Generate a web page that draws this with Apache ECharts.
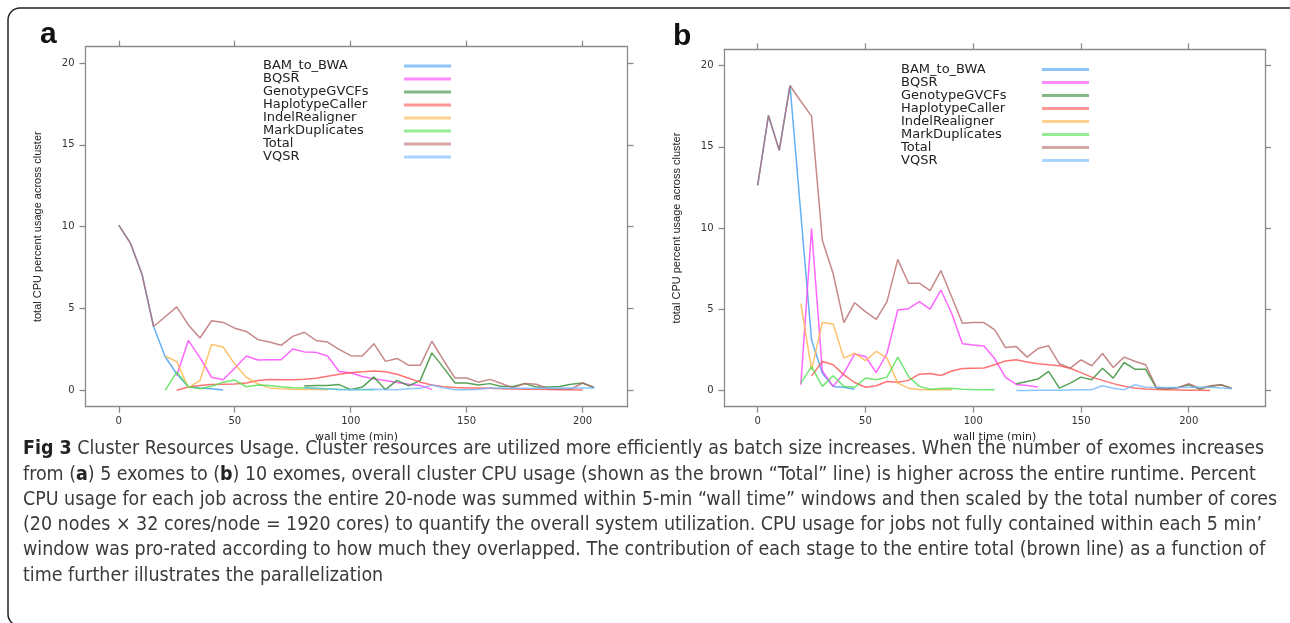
<!DOCTYPE html>
<html>
<head>
<meta charset="utf-8">
<script src="https://cdn.jsdelivr.net/npm/echarts@6/dist/echarts.min.js"></script>
<style>
  html, body { margin: 0; padding: 0; background: #fff; }
  #main { width: 1290px; height: 623px; }
</style>
</head>
<body>
<div id="main"></div>
<script>
// stage names, in legend order
const stageNames = ['BAM_to_BWA', 'BQSR', 'GenotypeGVCFs', 'HaplotypeCaller',
                    'IndelRealigner', 'MarkDuplicates', 'Total', 'VQSR'];
const stageColors = ['#3d9cf5', '#ff40ff', '#2e8b2e', '#ff5050',
                     '#ffb347', '#4fe04f', '#b86a6a', '#70b8ff'];

const xTicks = [0, 50, 100, 150, 200];
const yTicks = [0, 5, 10, 15, 20];

// leading nulls = stage not running yet
function lead(n, vals) { return new Array(n).fill(null).concat(vals); }

// ---- panel a : 5 exomes ----
const timeA = [0,5,10,15,20,25,30,35,40,45,50,55,60,65,70,75,80,85,90,95,100,
               105,110,115,120,125,130,135,140,145,150,155,160,165,170,175,180,
               185,190,195,200,205];
const bamA = [10.1, 9.0, 7.1, 3.9, 2.05, 1.0, 0.22, 0.15, 0.1, 0.02];
const bqsrA = lead(5, [0.9, 3.05, 2.0, 0.8, 0.65, 1.35, 2.1, 1.85, 1.87, 1.87, 2.53, 2.35,
                       2.32, 2.1, 1.15, 1.08, 0.85, 0.7, 0.6, 0.48, 0.37, 0.3, 0.06]);
const genoA = lead(16, [0.27, 0.29, 0.3, 0.35, 0.04, 0.2, 0.82, 0.04, 0.61, 0.27, 0.61, 2.29,
                        1.39, 0.45, 0.45, 0.33, 0.41, 0.24, 0.24, 0.41, 0.2, 0.2, 0.24, 0.37,
                        0.45, 0.16]);
const haploA = lead(5, [0.0, 0.2, 0.3, 0.35, 0.37, 0.38, 0.45, 0.6, 0.66, 0.64, 0.65, 0.68,
                        0.74, 0.86, 0.98, 1.07, 1.13, 1.18, 1.14, 0.98, 0.74, 0.5, 0.32, 0.22,
                        0.18, 0.15, 0.14, 0.12, 0.1, 0.08, 0.07, 0.06, 0.05, 0.04, 0.03, 0.02]);
const indelA = lead(4, [2.1, 1.75, 0.16, 0.6, 2.8, 2.65, 1.6, 0.8, 0.4, 0.15, 0.1, 0.07,
                        0.05, 0.05, 0.04]);
const markA = lead(4, [0.0, 1.13, 0.22, 0.1, 0.25, 0.5, 0.63, 0.22, 0.32, 0.3, 0.22, 0.16,
                       0.15, 0.12, 0.1, 0.07, 0.05, 0.04, 0.03]);
const totalA = [10.1, 9.0, 7.1, 3.9, 4.5, 5.1, 4.0, 3.2, 4.25, 4.15, 3.8, 3.6, 3.1, 2.95,
                2.75, 3.3, 3.55, 3.05, 2.95, 2.5, 2.12, 2.1, 2.85, 1.77, 1.95, 1.53, 1.53,
                3.0, 1.84, 0.75, 0.75, 0.5, 0.67, 0.42, 0.15, 0.42, 0.37, 0.1, 0.08, 0.08,
                0.45, 0.18];
const vqsrA = lead(16, [0.16, 0.12, 0.08, 0.03, 0.04, 0.05, 0.06, 0.05, 0.04, 0.1, 0.12, 0.32,
                        0.15, 0.03, 0.04, 0.05, 0.15, 0.12, 0.12, 0.12, 0.13, 0.13, 0.14, 0.14,
                        0.14, 0.14]);

// ---- panel b : 10 exomes ----
const timeB = [0,5,10,15,20,25,30,35,40,45,50,55,60,65,70,75,80,85,90,95,100,
               105,110,115,120,125,130,135,140,145,150,155,160,165,170,175,180,
               185,190,195,200,205,210,215,220];
const bamB = [12.63, 16.93, 14.78, 18.77, 10.9, 3.1, 1.06, 0.25, 0.2, 0.08];
const bqsrB = lead(4, [0.35, 9.97, 1.2, 0.25, 1.06, 2.25, 2.09, 1.1, 2.29, 4.95, 5.03, 5.47,
                       5.0, 6.18, 4.75, 2.87, 2.8, 2.74, 1.95, 0.8, 0.37, 0.3, 0.22]);
const genoB = lead(24, [0.41, 0.55, 0.7, 1.17, 0.14, 0.45, 0.82, 0.66, 1.37, 0.76, 1.72, 1.31,
                        1.31, 0.14, 0.08, 0.18, 0.35, 0.08, 0.25, 0.35, 0.12]);
const haploB = lead(5, [0.9, 1.78, 1.58, 0.96, 0.49, 0.2, 0.29, 0.55, 0.5, 0.62, 1.0, 1.05,
                        0.92, 1.2, 1.35, 1.37, 1.38, 1.58, 1.82, 1.89, 1.75, 1.65, 1.58, 1.52,
                        1.37, 1.1, 0.82, 0.62, 0.42, 0.26, 0.15, 0.09, 0.06, 0.04, 0.03, 0.02,
                        0.01, 0.0]);
const indelB = lead(4, [5.36, 1.27, 4.18, 4.09, 1.99, 2.29, 1.84, 2.4, 1.99, 0.45, 0.14, 0.06,
                        0.05, 0.05, 0.04]);
const markB = lead(4, [0.45, 1.47, 0.25, 0.9, 0.25, 0.2, 0.76, 0.66, 0.82, 2.05, 0.86, 0.25,
                       0.08, 0.12, 0.14, 0.08, 0.06, 0.05, 0.04]);
const totalB = [12.63, 16.93, 14.78, 18.77, 17.8, 16.89, 9.25, 7.2, 4.18, 5.4, 4.85, 4.38,
                5.47, 8.07, 6.6, 6.6, 6.15, 7.38, 5.77, 4.14, 4.18, 4.18, 3.73, 2.64, 2.7,
                2.05, 2.58, 2.75, 1.64, 1.37, 1.88, 1.52, 2.27, 1.41, 2.05, 1.8, 1.58, 0.2,
                0.14, 0.17, 0.41, 0.14, 0.29, 0.35, 0.12];
const vqsrB = lead(24, [0.0, 0.0, 0.02, 0.02, 0.02, 0.03, 0.04, 0.05, 0.29, 0.14, 0.04, 0.35,
                        0.2, 0.18, 0.18, 0.18, 0.2, 0.2, 0.2, 0.15, 0.12]);

const panelA = [bamA, bqsrA, genoA, haploA, indelA, markA, totalA, vqsrA];
const panelB = [bamB, bqsrB, genoB, haploB, indelB, markB, totalB, vqsrB];

const captionLines = [
  '{b|Fig 3} Cluster Resources Usage. Cluster resources are utilized more efficiently as batch size increases. When the number of exomes increases',
  'from ({b|a}) 5 exomes to ({b|b}) 10 exomes, overall cluster CPU usage (shown as the brown \u201cTotal\u201d line) is higher across the entire runtime. Percent',
  'CPU usage for each job across the entire 20-node was summed within 5-min \u201cwall time\u201d windows and then scaled by the total number of cores',
  '(20 nodes \u00d7 32 cores/node = 1920 cores) to quantify the overall system utilization. CPU usage for jobs not fully contained within each 5 min\u2019',
  'window was pro-rated according to how much they overlapped. The contribution of each stage to the entire total (brown line) as a function of',
  'time further illustrates the parallelization'
];

function pairs(t, v) {
  const out = [];
  v.forEach((y, i) => { if (y !== null) out.push([t[i], y]); });
  return out;
}

const capFont = '"Liberation Sans Narrow", "DejaVu Sans Condensed", sans-serif';
const capSize = 20;
// width of a caption line, so it can be squeezed to the reference width
function capWidth(line) {
  const ctx = document.createElement('canvas').getContext('2d');
  let w = 0;
  line.split(/(\{b\|[^}]*\})/).forEach(part => {
    if (!part) return;
    const m = part.match(/^\{b\|([^}]*)\}$/);
    ctx.font = (m ? 'bold ' : '') + capSize + 'px ' + capFont;
    w += ctx.measureText(m ? m[1] : part).width;
  });
  return w;
}
const capScale = (1277 - 23) / capWidth(captionLines[2]);

const axisGray = '#8a8a8a';
const lineAx = { show: true, onZero: false, lineStyle: { color: axisGray, width: 1.3 } };
const tickAx = (vals) => ({ show: true, inside: false, length: 6, customValues: vals,
                            lineStyle: { color: axisGray, width: 1.3 } });
const labelAx = (vals, margin) => ({ show: true, customValues: vals, margin: margin,
                                     fontFamily: 'DejaVu Sans', fontSize: 10, color: '#333' });

function xAxes(grid, min, max) {
  return [
    { type: 'value', gridIndex: grid, position: 'bottom', min: min, max: max,
      axisLine: lineAx, axisTick: tickAx(xTicks), axisLabel: labelAx(xTicks, 10),
      splitLine: { show: false },
      name: 'wall time (min)', nameLocation: 'middle', nameGap: 25,
      nameTextStyle: { fontFamily: 'DejaVu Sans', fontSize: 11, color: '#222' } },
    { type: 'value', gridIndex: grid, position: 'top', min: min, max: max,
      axisLine: lineAx, axisTick: tickAx(xTicks), axisLabel: { show: false },
      splitLine: { show: false } }
  ];
}
function yAxes(grid) {
  return [
    { type: 'value', gridIndex: grid, position: 'left', min: -1, max: 21,
      axisLine: lineAx, axisTick: tickAx(yTicks), axisLabel: labelAx(yTicks, 11),
      splitLine: { show: false },
      name: 'total CPU percent usage across cluster', nameLocation: 'middle', nameGap: 42,
      nameTextStyle: { fontFamily: 'Liberation Sans', fontSize: 11, color: '#222' } },
    { type: 'value', gridIndex: grid, position: 'right', min: -1, max: 21,
      axisLine: lineAx, axisTick: tickAx(yTicks), axisLabel: { show: false },
      splitLine: { show: false } }
  ];
}

const series = [];
[[panelA, timeA, 0], [panelB, timeB, 1]].forEach(([vals, t, g]) => {
  vals.forEach((v, i) => {
    series.push({
      name: stageNames[i], type: 'line', xAxisIndex: g * 2, yAxisIndex: g * 2,
      data: pairs(t, v), symbol: 'none', silent: true,
      lineStyle: { color: stageColors[i], width: 1.5, opacity: 0.8 },
      itemStyle: { color: stageColors[i] }
    });
  });
});

function legendAt(left, top, rowH) {
  return {
    data: stageNames, orient: 'vertical', left: left, top: top, align: 'right',
    padding: 0, itemGap: 0, itemWidth: 47, itemHeight: 3, icon: 'rect',
    selectedMode: false, inactiveColor: '#ccc',
    itemStyle: { opacity: 0.6 },
    formatter: '{n|{name}}',
    textStyle: {
      fontFamily: 'DejaVu Sans', fontSize: 13, color: '#222',
      rich: { n: { width: 136, height: rowH, lineHeight: rowH, align: 'left',
                   fontFamily: 'DejaVu Sans', fontSize: 13, color: '#222' } }
    }
  };
}

const graphics = [
  { type: 'rect', shape: { x: 8, y: 8, width: 1296, height: 618, r: 12 },
    style: { fill: 'none', stroke: '#222', lineWidth: 1.5 }, silent: true },
  { type: 'text', x: 40, y: 34.6,
    style: { text: 'a', font: 'bold 30px "Liberation Sans"', fill: '#111', verticalAlign: 'middle' } },
  { type: 'text', x: 673, y: 37,
    style: { text: 'b', font: 'bold 30px "Liberation Sans"', fill: '#111', verticalAlign: 'middle' } }
];
captionLines.forEach((line, i) => {
  graphics.push({
    type: 'text', x: 23, y: 449 + i * 25.3, scaleX: capScale, scaleY: 1,
    style: {
      text: line, fontFamily: capFont, fontSize: capSize, fill: '#3a3a3a',
      verticalAlign: 'middle',
      rich: { b: { fontFamily: capFont, fontSize: capSize, fontWeight: 'bold', fill: '#222' } }
    }
  });
});

const chart = echarts.init(document.getElementById('main'), null, { renderer: 'canvas' });
chart.setOption({
  backgroundColor: '#fff',
  animation: false,
  grid: [
    { left: 85.5, top: 46.7, width: 542, height: 360 },
    { left: 724.5, top: 49.3, width: 540.5, height: 357.4 }
  ],
  xAxis: xAxes(0, -14.35, 219.35).concat(xAxes(1, -15.4, 235.4)),
  yAxis: yAxes(0).concat(yAxes(1)),
  legend: [legendAt(263, 59.5, 11), legendAt(901, 63, 10.8)],
  graphic: graphics,
  series: series
});
</script>
</body>
</html>
